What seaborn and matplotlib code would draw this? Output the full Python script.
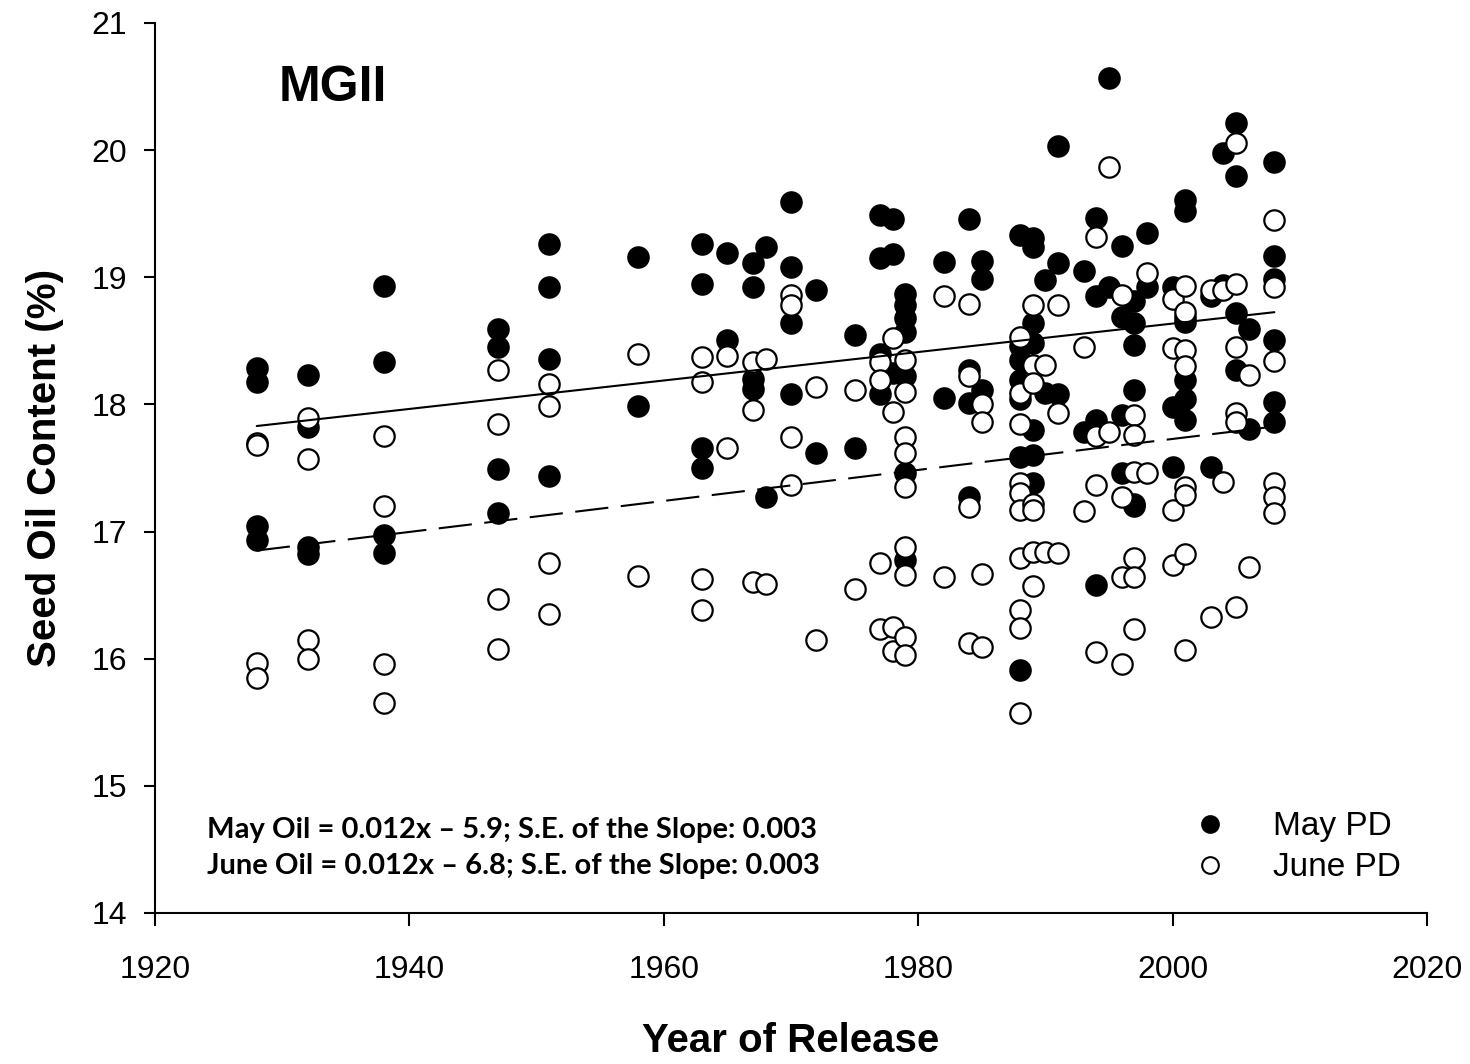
import numpy as np
import pandas as pd
import matplotlib
matplotlib.use("Agg")
import matplotlib.pyplot as plt
import seaborn as sns
from matplotlib.lines import Line2D

# ---------------- data ----------------
may_years = (
    [1928]*4 + [1932]*4 + [1938]*4 + [1947]*4 + [1951]*4 + [1958]*2 + [1963]*4 +
    [1965]*2 + [1967]*4 + [1968]*2 + [1970]*4 + [1972]*2 + [1975]*2 + [1977]*4 +
    [1978]*3 + [1979]*7 + [1982]*2 + [1984]*4 + [1985]*3 + [1988]*7 + [1989]*7 +
    [1990]*2 + [1991]*3 + [1993]*2 + [1994]*4 + [1995]*2 + [1996]*4 + [1997]*6 +
    [1998]*2 + [2000]*3 + [2001]*7 + [2003]*2 + [2004]*2 + [2005]*4 + [2006]*2 +
    [2008]*6
)
may_oil = [
    18.29, 18.18, 17.04, 16.93,
    18.23, 17.82, 16.88, 16.82,
    18.93, 18.33, 16.97, 16.83,
    18.59, 18.45, 17.49, 17.15,
    19.26, 18.92, 18.36, 17.44,
    19.16, 17.99,
    19.26, 18.95, 17.66, 17.50,
    19.19, 18.51,
    19.11, 18.92, 18.20, 18.12,
    19.24, 17.27,
    19.59, 19.08, 18.64, 18.08,
    18.90, 17.62,
    18.55, 17.66,
    19.49, 19.15, 18.40, 18.08,
    19.46, 19.18, 18.25,
    18.87, 18.78, 18.68, 18.57, 18.22, 17.46, 16.78,
    19.12, 18.05,
    19.46, 18.27, 18.01, 17.27,
    19.13, 18.99, 18.11,
    19.33, 18.46, 18.35, 18.19, 18.04, 17.59, 15.91,
    19.31, 19.24, 18.64, 18.48, 17.80, 17.60, 17.38,
    18.98, 18.09,
    20.03, 19.11, 18.08,
    19.05, 17.78,
    19.47, 18.85, 17.88, 16.58,
    20.57, 18.92,
    19.25, 18.69, 17.92, 17.46,
    18.81, 18.64, 18.47, 18.11, 17.22, 17.20,
    19.35, 18.92,
    18.92, 17.98, 17.51,
    19.61, 19.52, 18.69, 18.65, 18.19, 18.04, 17.88,
    18.85, 17.51,
    19.98, 18.94,
    20.21, 19.80, 18.72, 18.27,
    18.59, 17.81,
    19.91, 19.17, 18.99, 18.51, 18.02, 17.86,
]

june_years = (
    [1928]*4 + [1932]*4 + [1938]*4 + [1947]*4 + [1951]*4 + [1958]*2 + [1963]*4 +
    [1965]*2 + [1967]*3 + [1968]*2 + [1970]*4 + [1972]*2 + [1975]*2 + [1977]*4 +
    [1978]*4 + [1979]*9 + [1982]*2 + [1984]*4 + [1985]*4 + [1988]*10 + [1989]*7 +
    [1990]*2 + [1991]*3 + [1993]*2 + [1994]*4 + [1995]*2 + [1996]*4 + [1997]*6 +
    [1998]*2 + [2000]*4 + [2001]*8 + [2003]*2 + [2004]*2 + [2005]*6 + [2006]*2 +
    [2008]*6
)
june_oil = [
    17.70, 17.68, 15.97, 15.85,
    17.89, 17.57, 16.15, 16.00,
    17.75, 17.20, 15.96, 15.65,
    18.27, 17.85, 16.47, 16.08,
    18.16, 17.99, 16.75, 16.35,
    18.40, 16.65,
    18.37, 18.18, 16.63, 16.38,
    18.38, 17.66,
    18.33, 17.96, 16.60,
    18.36, 16.59,
    18.86, 18.78, 17.74, 17.37,
    18.14, 16.15,
    18.11, 16.55,
    18.33, 18.19, 16.75, 16.23,
    18.52, 17.94, 16.25, 16.06,
    18.35, 18.10, 17.74, 17.62, 17.35, 16.88, 16.66, 16.17, 16.03,
    18.85, 16.64,
    18.79, 18.22, 17.19, 16.12,
    18.00, 17.86, 16.67, 16.09,
    18.53, 18.09, 17.85, 17.38, 17.30, 17.17, 16.79, 16.38, 16.24, 15.57,
    18.78, 18.31, 18.17, 17.22, 17.17, 16.84, 16.57,
    18.31, 16.84,
    18.78, 17.93, 16.83,
    18.45, 17.16,
    19.32, 17.75, 17.37, 16.05,
    19.87, 17.78,
    18.86, 17.27, 16.64, 15.96,
    17.92, 17.76, 17.47, 16.79, 16.64, 16.23,
    19.03, 17.46,
    18.83, 18.44, 17.17, 16.74,
    18.93, 18.73, 18.43, 18.30, 17.35, 17.29, 16.82, 16.07,
    18.90, 16.33,
    18.90, 17.39,
    20.06, 18.95, 18.45, 17.93, 17.86, 16.41,
    18.23, 16.72,
    19.45, 18.92, 18.34, 17.38, 17.27, 17.15,
]

x_ticks = [1920, 1940, 1960, 1980, 2000, 2020]
y_ticks = [14, 15, 16, 17, 18, 19, 20, 21]
panel_label = "MGII"
eq_may = "May Oil = 0.012x \u2013 5.9; S.E. of the Slope: 0.003"
eq_june = "June Oil = 0.012x \u2013 6.8; S.E. of the Slope: 0.003"
series_names = ["May PD", "June PD"]

may_df = pd.DataFrame({"year": may_years, "oil": may_oil})
june_df = pd.DataFrame({"year": june_years, "oil": june_oil})

# ---------------- plot ----------------
sns.set_theme(style="ticks")
plt.rcParams["font.family"] = ["Liberation Sans", "DejaVu Sans"]
plt.rcParams["text.color"] = "black"
plt.rcParams["axes.labelcolor"] = "black"
plt.rcParams["xtick.color"] = "black"
plt.rcParams["ytick.color"] = "black"

fig = plt.figure(figsize=(14.7, 10.64), dpi=100)
ax = fig.add_axes([155/1470, 1 - 913/1064, (1427-155)/1470, (913-23)/1064])

msize = 215
sns.scatterplot(data=may_df, x="year", y="oil", ax=ax, color="black",
                edgecolor="black", linewidth=1.6, s=msize, zorder=3)
sns.scatterplot(data=june_df, x="year", y="oil", ax=ax, color="white",
                edgecolor="black", linewidth=1.6, s=msize, zorder=4)

# regression lines from the data
for df, ls in [(may_df, "-"), (june_df, (0, (16, 6)))]:
    b, a = np.polyfit(df["year"], df["oil"], 1)
    xs = np.array([df["year"].min(), df["year"].max()])
    line_df = pd.DataFrame({"year": xs, "oil": a + b * xs})
    sns.lineplot(data=line_df, x="year", y="oil", ax=ax, color="black",
                 linewidth=1.5, linestyle=ls, zorder=5)

ax.set_xlim(1920, 2020)
ax.set_ylim(14, 21)
ax.set_xticks(x_ticks)
ax.set_yticks(y_ticks)
ax.tick_params(axis="x", direction="out", length=9, width=1.5, pad=21,
               labelsize=23, colors="black")
ax.tick_params(axis="y", direction="out", length=8, width=1.5, pad=12,
               labelsize=23, colors="black")
for sp in ["top", "right"]:
    ax.spines[sp].set_visible(False)
for sp in ["left", "bottom"]:
    ax.spines[sp].set_linewidth(1.5)
    ax.spines[sp].set_color("black")

ax.set_xlabel("Year of Release", fontsize=29, fontweight="bold", labelpad=27,
              color="black")
ax.set_ylabel("Seed Oil Content (%)", fontsize=29, fontweight="bold",
              labelpad=20, color="black")

ax.text(0.097, 0.927, panel_label, transform=ax.transAxes, fontsize=36,
        fontweight="bold", va="center", ha="left", color="black")
ax.text(0.041, 0.093, eq_may, transform=ax.transAxes, fontsize=21,
        fontweight="bold", va="center", ha="left", color="black",
        family=["Lato", "DejaVu Sans"])
ax.text(0.041, 0.053, eq_june, transform=ax.transAxes, fontsize=21,
        fontweight="bold", va="center", ha="left", color="black",
        family=["Lato", "DejaVu Sans"])

handles = [
    Line2D([], [], marker="o", linestyle="none", markerfacecolor="black",
           markeredgecolor="black", markersize=12, markeredgewidth=1.5),
    Line2D([], [], marker="o", linestyle="none", markerfacecolor="white",
           markeredgecolor="black", markersize=12, markeredgewidth=1.5),
]
leg = ax.legend(handles, series_names, loc="upper left",
                bbox_to_anchor=((1163-155)/1272, (913-798)/890), frameon=False,
                fontsize=24, handletextpad=0.9, labelspacing=0.3, borderaxespad=0)
for t in leg.get_texts():
    t.set_color("black")

fig.savefig("out.png", dpi=100)
